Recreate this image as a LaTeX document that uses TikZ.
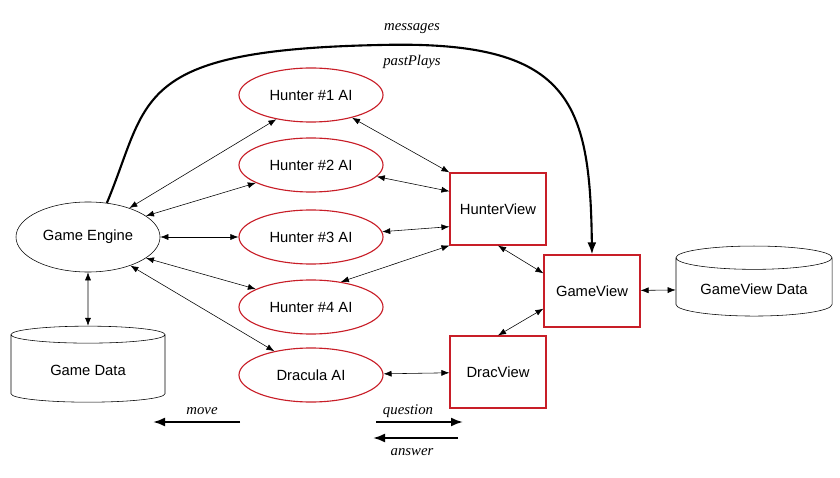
\documentclass[tikz,border=0pt]{standalone}
\usepackage{fontspec}
\setmainfont{Liberation Sans}
\newfontfamily\notefont{Liberation Serif}
\usetikzlibrary{arrows.meta,shapes.geometric}
\definecolor{viewred}{RGB}{200,30,40}

\begin{document}
\begin{tikzpicture}[
        x=0.025cm, y=-0.025cm,
        every node/.style={font=\fontsize{10.5}{12}\selectfont},
        ai/.style={
            ellipse,
            draw=viewred,
            thick,
            minimum width=3.6cm,
            minimum height=1.35cm
        },
        view/.style={
            rectangle,
            draw=viewred,
            thick,
            minimum width=2.4cm,
            minimum height=1.8cm
        },
        store/.style={
            cylinder,
            shape border rotate=90,
            aspect=0.2,
            draw,
            minimum width=3.85cm,
            minimum height=1.9cm
        },
        link/.style={{Latex[length=2mm]}-{Latex[length=2mm]}},
        note/.style={font=\notefont\itshape\fontsize{10.5}{12}\selectfont},
        flow/.style={-{Latex[length=3mm]}, line width=1.5pt},
    ]
        \useasboundingbox (0,0) rectangle (840,478);

        % Engine side
        \node [ellipse, draw, minimum width=3.6cm, minimum height=1.75cm] (engine) at (88,237) {Game Engine};
        \node [store] (gamedata) at (88,370) {Game Data};

        % AIs
        \node [ai] (h1) at (311,95) {Hunter \#1 AI};
        \node [ai] (h2) at (311,165) {Hunter \#2 AI};
        \node [ai] (h3) at (311,237) {Hunter \#3 AI};
        \node [ai] (h4) at (311,307) {Hunter \#4 AI};
        \node [ai] (drac) at (311,375) {Dracula AI};

        % Views
        \node [view] (hview) at (498,209) {HunterView};
        \node [view] (dview) at (498,372) {DracView};
        \node [view] (gview) at (592,291) {GameView};
        \node [store, minimum width=3.9cm, minimum height=1.75cm] (gvdata) at (754,289) {GameView Data};

        \draw[link] (engine) -- (gamedata);
        \draw[link] (engine.35) -- (h1.215);
        \draw[link] (engine.20) -- (h2.198);
        \draw[link] (engine) -- (h3);
        \draw[link] (engine.-20) -- (h4.162);
        \draw[link] (engine.-34) -- (drac.147);

        \draw[link] (h1.-29) -- (hview.north west);
        \draw[link] (h2.-10) -- (hview.160);
        \draw[link] (h3) -- (hview.200);
        \draw[link] (h4.40) -- (hview.south west);
        \draw[link] (drac) -- (dview);

        \draw[link] (hview.south) -- (gview.160);
        \draw[link] (dview.north) -- (gview.200);
        \draw[link] (gview) -- (gvdata);

        % messages
        \draw[flow] (engine.61) .. controls (150,100) and (130,50) .. (380,45)
            .. controls (570,40) and (590,100) .. (gview.north);
        \node [note] (msg) at (412,29) {messages};
        \node [note] (past) at (412,62) {pastPlays};

        % legend
        \coordinate (m1) at (240,422);
        \coordinate (m2) at (153,422);
        \draw[flow] (m1) -- (m2);
        \node [note] (mv) at (202,411) {move};
        \coordinate (q1) at (376,422);
        \coordinate (q2) at (463,422);
        \draw[flow] (q1) -- (q2);
        \node [note] (qu) at (408,411) {question};
        \coordinate (a1) at (458,438);
        \coordinate (a2) at (373,438);
        \draw[flow] (a1) -- (a2);
        \node [note] (an) at (412,452) {answer};
    \end{tikzpicture}
\end{document}
